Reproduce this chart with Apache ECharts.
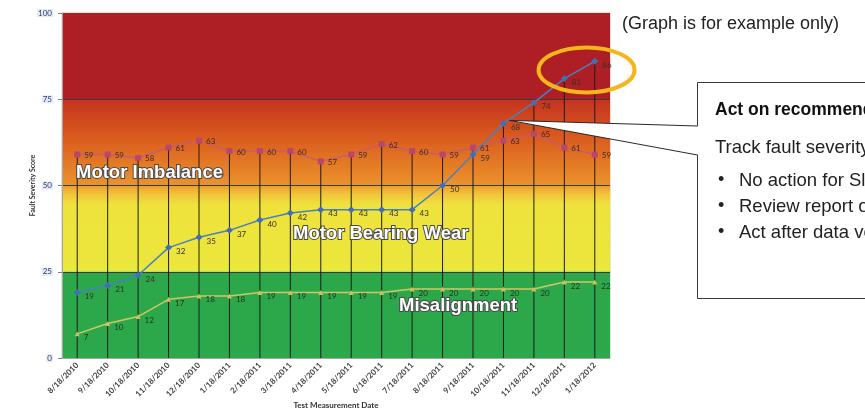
<!DOCTYPE html>
<html>
<head>
<meta charset="utf-8">
<script src="https://cdn.jsdelivr.net/npm/echarts@6/dist/echarts.min.js"></script>
<style>
  html, body { margin: 0; padding: 0; background: #ffffff; overflow: hidden; }
  #chart { width: 865px; height: 419px; }
</style>
</head>
<body>
<div id="chart"></div>
<script>
// Monthly test measurement dates
const dates = [
  '8/18/2010', '9/18/2010', '10/18/2010', '11/18/2010', '12/18/2010',
  '1/18/2011', '2/18/2011', '3/18/2011', '4/18/2011', '5/18/2011',
  '6/18/2011', '7/18/2011', '8/18/2011', '9/18/2011', '10/18/2011',
  '11/18/2011', '12/18/2011', '1/18/2012'
];

// Fault severity scores per fault type
const motorImbalance = [59, 59, 58, 61, 63, 60, 60, 60, 57, 59, 62, 60, 59, 61, 63, 65, 61, 59];
const motorBearingWear = [19, 21, 24, 32, 35, 37, 40, 42, 43, 43, 43, 43, 50, 59, 68, 74, 81, 86];
const misalignment = [7, 10, 12, 17, 18, 18, 19, 19, 19, 19, 19, 20, 20, 20, 20, 20, 22, 22];

// Severity axis ticks
const yMin = 0;
const yMax = 100;
const yStep = 25;

// Callout text
const noteTitle = 'Act on recommendations';
const noteIntro = 'Track fault severity trends';
const noteBullets = [
  'No action for Slight faults',
  'Review report on Moderate faults',
  'Act after data verification on Serious faults'
];

// Drop line from the axis to the highest reading of each date
const dropHeights = dates.map((_, i) => Math.max(motorImbalance[i], motorBearingWear[i], misalignment[i]));

const vGrad = (stops) => ({
  type: 'linear', x: 0, y: 0, x2: 0, y2: 1,
  colorStops: stops.map(([offset, color]) => ({ offset, color }))
});

const labelFont = 'Lato, "Liberation Sans", sans-serif';
const boldFont = '"Liberation Sans", Arial, sans-serif';

const chart = echarts.init(document.getElementById('chart'), null, { renderer: 'canvas' });

const option = {
  animation: false,
  grid: { left: 62, right: 255, top: 13, bottom: 61, show: true, borderColor: '#c4c4c4', borderWidth: 1, backgroundColor: 'transparent' },
  xAxis: {
    type: 'category',
    data: dates,
    boundaryGap: true,
    axisLine: { show: true, lineStyle: { color: '#a6a6a6' } },
    axisTick: { show: false },
    axisLabel: { rotate: 45, interval: 0, fontSize: 8, fontFamily: labelFont, fontWeight: 'bold', color: '#404040', margin: 6 },
    name: 'Test Measurement Date',
    nameLocation: 'middle',
    nameGap: 43,
    nameMoveOverlap: false,
    nameTextStyle: { fontSize: 8, fontWeight: 'bold', fontFamily: labelFont, color: '#333' }
  },
  yAxis: {
    type: 'value',
    min: yMin, max: yMax, interval: yStep,
    z: 1.5,
    axisLine: { show: true, lineStyle: { color: '#a6a6a6' } },
    axisTick: { show: true, length: 4, lineStyle: { color: '#808080' } },
    axisLabel: { fontSize: 8, fontFamily: labelFont, color: '#2a3f6e', margin: 9, backgroundColor: '#e4e9f4', padding: [0, 1] },
    splitLine: { show: true, lineStyle: { color: ['rgba(0,0,0,0)', '#3a3a3a', '#3a3a3a', '#3a3a3a', 'rgba(0,0,0,0)'], width: 1 } },
    name: 'Fault Severity Score',
    nameLocation: 'middle',
    nameGap: 26,
    nameMoveOverlap: false,
    nameTextStyle: { fontSize: 7, fontWeight: 'bold', fontFamily: labelFont, color: '#333' }
  },
  series: [
    {
      name: 'Drop lines',
      type: 'bar',
      data: dropHeights,
      barWidth: 1,
      silent: true,
      itemStyle: { color: '#1c1c1c' },
      markArea: {
        silent: true,
        data: [
          [{ yAxis: 75, itemStyle: { color: '#ad1f24' } }, { yAxis: 100 }],
          [{ yAxis: 50, itemStyle: { color: vGrad([[0, '#c4321f'], [0.45, '#da5c1f'], [1, '#ec932b']]) } }, { yAxis: 75 }],
          [{ yAxis: 25, itemStyle: { color: vGrad([[0, '#ee9c2e'], [0.1, '#f1c43a'], [0.22, '#efe23d'], [1, '#ebe73b']]) } }, { yAxis: 50 }],
          [{ yAxis: 0, itemStyle: { color: '#2ca84b' } }, { yAxis: 25 }]
        ]
      }
    },
    {
      name: 'Motor Imbalance',
      type: 'line',
      data: motorImbalance,
      symbol: 'rect',
      symbolSize: 6,
      lineStyle: { color: '#c45a74', width: 1.5, opacity: 0.85 },
      itemStyle: { color: '#b9476b' },
      label: { show: true, position: 'right', distance: 4, offset: [0, 1], fontSize: 8, fontFamily: labelFont, color: '#3b2a22' }
    },
    {
      name: 'Motor Bearing Wear',
      type: 'line',
      data: motorBearingWear,
      symbol: 'diamond',
      symbolSize: 7,
      lineStyle: { color: '#4a80c0', width: 1.5 },
      itemStyle: { color: '#3f70b6' },
      label: { show: true, position: 'right', distance: 4, offset: [0, 4], fontSize: 8, fontFamily: labelFont, color: '#34302a' }
    },
    {
      name: 'Misalignment',
      type: 'line',
      data: misalignment,
      symbol: 'triangle',
      symbolSize: 5,
      lineStyle: { color: '#cdc66a', width: 1.5 },
      itemStyle: { color: '#cbc25c' },
      label: { show: true, position: 'right', distance: 4, offset: [0, 4], fontSize: 8, fontFamily: labelFont, color: '#1f3322' }
    }
  ]
};

chart.setOption(option);

// Annotations placed relative to the plotted readings
const px = (i, v) => chart.convertToPixel({ gridIndex: 0 }, [i, v]);
const last = dates.length - 1;
const pA = px(last - 1, motorBearingWear[last - 1]);
const pB = px(last, motorBearingWear[last]);
const tip = px(14, motorBearingWear[14]);

const bigText = (text, x, y) => ({
  type: 'text', left: x, top: y - 10, z: 50,
  style: {
    text, fill: '#ffffff', font: 'bold 18.5px ' + boldFont,
    stroke: '#4a4a4a', lineWidth: 2,
    shadowColor: 'rgba(0,0,0,0.45)', shadowBlur: 2, shadowOffsetX: 1, shadowOffsetY: 1
  }
});

const boxX = 697, boxY = 82, boxW = 260, boxH = 216;
const pointerTop = 126, pointerBottom = 155;

const graphics = [
  bigText('Motor Imbalance', 75, 172),
  bigText('Motor Bearing Wear', 292, 233),
  bigText('Misalignment', 398, 305),
  {
    type: 'ellipse', z: 60,
    shape: { cx: (pA[0] + pB[0]) / 2 + 7, cy: (pA[1] + pB[1]) / 2, rx: 48, ry: 22.5 },
    style: { fill: 'none', stroke: '#f6b51b', lineWidth: 4 }
  },
  {
    type: 'text', left: 622, top: 15, z: 60,
    style: { text: '(Graph is for example only)', fill: '#222', font: '18px ' + boldFont }
  },
  {
    type: 'rect', z: 60,
    shape: { x: boxX + 0.5, y: boxY + 0.5, width: boxW, height: boxH },
    style: { fill: '#ffffff', stroke: '#3a3a3a', lineWidth: 1 }
  },
  {
    type: 'polygon', z: 61,
    shape: { points: [[tip[0] + 6, tip[1] - 3], [boxX + 2, pointerTop], [boxX + 2, pointerBottom]] },
    style: { fill: '#ffffff', stroke: 'none' }
  },
  {
    type: 'line', z: 62,
    shape: { x1: tip[0] + 6, y1: tip[1] - 3, x2: boxX + 0.5, y2: pointerTop },
    style: { stroke: '#2a2a2a', lineWidth: 1 }
  },
  {
    type: 'line', z: 62,
    shape: { x1: tip[0] + 6, y1: tip[1] - 3, x2: boxX + 0.5, y2: pointerBottom },
    style: { stroke: '#2a2a2a', lineWidth: 1 }
  },
  {
    type: 'text', left: 715, top: 101, z: 63,
    style: { text: noteTitle, fill: '#111', font: 'bold 17.5px ' + boldFont }
  },
  {
    type: 'text', left: 715, top: 138, z: 63,
    style: { text: noteIntro, fill: '#222', font: '18.5px ' + boldFont }
  }
];

noteBullets.forEach((t, k) => {
  const y = 171 + k * 26;
  graphics.push({
    type: 'text', left: 718, top: y, z: 63,
    style: { text: '•', fill: '#222', font: '18px ' + boldFont }
  });
  graphics.push({
    type: 'text', left: 739, top: y, z: 63,
    style: { text: t, fill: '#222', font: '18.5px ' + boldFont }
  });
});

chart.setOption({ graphic: graphics });
</script>
</body>
</html>
